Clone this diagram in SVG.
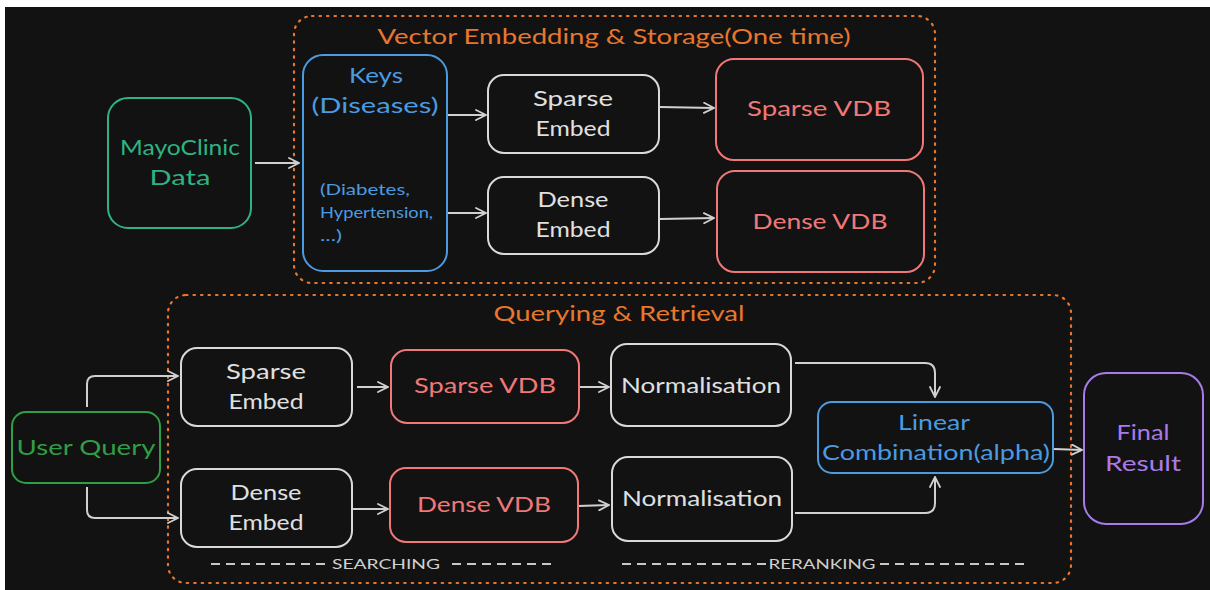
<svg xmlns="http://www.w3.org/2000/svg" width="1210" height="590" viewBox="0 0 1210 590">
<style>
.t{font-family:"Lato","Liberation Sans",sans-serif;text-anchor:middle}
.l{font-family:"Lato","Liberation Sans",sans-serif}
.box{fill:#121212;stroke-width:2}
.w{stroke:#d9d9d9}
.wt{fill:#e0e0e0}
.r{stroke:#f07878}
.rt{fill:#f07878}
.b{stroke:#4a9be0}
.bt{fill:#4a9be0}
.grp{fill:none;stroke:#e8772e;stroke-width:2.2;stroke-dasharray:1.5 6;stroke-linecap:round}
.gt{fill:#e8772e}
.con{fill:none;stroke:#d0d0d0;stroke-width:2;marker-end:url(#ah)}
.sep{stroke:#c8c8c8;stroke-width:2;stroke-dasharray:9 6}
</style>
<defs>
<marker id="ah" viewBox="0 0 12 12" refX="11" refY="6" markerWidth="12" markerHeight="12" markerUnits="userSpaceOnUse" orient="auto">
<path d="M1,1 L11,6 L1,11" fill="none" stroke="#d0d0d0" stroke-width="1.8" stroke-linecap="round"/>
</marker>
</defs>
<rect x="0" y="0" width="1210" height="590" fill="#ffffff"/>
<rect x="5" y="7" width="1205" height="583" fill="#121212"/>

<g id="group-storage">
<rect class="grp" x="294" y="16" width="641" height="267" rx="18"/>
<text class="t gt" x="614" y="44" font-size="21" textLength="473" lengthAdjust="spacingAndGlyphs">Vector Embedding &amp; Storage(One time)</text>
</g>
<g id="group-query">
<rect class="grp" x="168" y="295" width="903" height="288" rx="18"/>
<text class="t gt" x="619" y="321" font-size="21" textLength="251" lengthAdjust="spacingAndGlyphs">Querying &amp; Retrieval</text>
</g>

<g id="connectors">
<path class="con" d="M255,163 L299,163"/>
<path class="con" d="M448,115 L486,115"/>
<path class="con" d="M448,213 L486,213"/>
<path class="con" d="M660,107 L714,108"/>
<path class="con" d="M660,219 L714,218"/>
<path class="con" d="M87,407 L87,384 Q87,376 95,376 L178,376"/>
<path class="con" d="M87,487 L87,510 Q87,518 95,518 L178,518"/>
<path class="con" d="M357,387 L388,387"/>
<path class="con" d="M353,509 L388,509"/>
<path class="con" d="M580,387 L609,387"/>
<path class="con" d="M578,506 L609,505"/>
<path class="con" d="M795,363 L925,363 Q935,363 935,373 L935,397"/>
<path class="con" d="M795,513 L925,513 Q935,513 935,503 L935,477"/>
<path class="con" d="M1054,449 L1082,450"/>
</g>

<g id="mayoclinic">
<rect class="box" x="108" y="98" width="143" height="130" rx="20" stroke="#2fb383"/>
<text class="t" fill="#2fb383" font-size="22" x="180" y="155" textLength="120" lengthAdjust="spacingAndGlyphs">MayoClinic</text>
<text class="t" fill="#2fb383" font-size="22" x="180" y="185" textLength="61" lengthAdjust="spacingAndGlyphs">Data</text>
</g>
<g id="keys">
<rect class="box b" x="303" y="55" width="144" height="216" rx="20"/>
<text class="t bt" font-size="22" x="376" y="83" textLength="54" lengthAdjust="spacingAndGlyphs">Keys</text>
<text class="t bt" font-size="22" x="375" y="113" textLength="127" lengthAdjust="spacingAndGlyphs">(Diseases)</text>
<text class="l bt" font-size="15" x="320" y="195" textLength="90" lengthAdjust="spacingAndGlyphs">(Diabetes,</text>
<text class="l bt" font-size="15" x="320" y="218" textLength="113" lengthAdjust="spacingAndGlyphs">Hypertension,</text>
<text class="l bt" font-size="15" x="320" y="241" textLength="22" lengthAdjust="spacingAndGlyphs">...)</text>
</g>
<g id="sparse-embed-1">
<rect class="box w" x="488" y="75" width="171" height="78" rx="16"/>
<text class="t wt" font-size="22" x="573" y="106" textLength="80" lengthAdjust="spacingAndGlyphs">Sparse</text>
<text class="t wt" font-size="22" x="573" y="136" textLength="75" lengthAdjust="spacingAndGlyphs">Embed</text>
</g>
<g id="dense-embed-1">
<rect class="box w" x="488" y="177" width="171" height="77" rx="16"/>
<text class="t wt" font-size="22" x="573" y="207" textLength="71" lengthAdjust="spacingAndGlyphs">Dense</text>
<text class="t wt" font-size="22" x="573" y="237" textLength="75" lengthAdjust="spacingAndGlyphs">Embed</text>
</g>
<g id="sparse-vdb-1">
<rect class="box r" x="716" y="59" width="207" height="101" rx="18"/>
<text class="t rt" font-size="22" x="819" y="116" textLength="144" lengthAdjust="spacingAndGlyphs">Sparse VDB</text>
</g>
<g id="dense-vdb-1">
<rect class="box r" x="717" y="171" width="207" height="101" rx="18"/>
<text class="t rt" font-size="22" x="820" y="229" textLength="135" lengthAdjust="spacingAndGlyphs">Dense VDB</text>
</g>

<g id="user-query">
<rect class="box" x="12" y="412" width="148" height="71" rx="14" stroke="#2f9e44"/>
<text class="t" fill="#2f9e44" font-size="22" x="86" y="455" textLength="139" lengthAdjust="spacingAndGlyphs">User Query</text>
</g>
<g id="sparse-embed-2">
<rect class="box w" x="181" y="348" width="171" height="78" rx="16"/>
<text class="t wt" font-size="22" x="266" y="379" textLength="80" lengthAdjust="spacingAndGlyphs">Sparse</text>
<text class="t wt" font-size="22" x="266" y="409" textLength="75" lengthAdjust="spacingAndGlyphs">Embed</text>
</g>
<g id="dense-embed-2">
<rect class="box w" x="181" y="469" width="171" height="78" rx="16"/>
<text class="t wt" font-size="22" x="266" y="500" textLength="71" lengthAdjust="spacingAndGlyphs">Dense</text>
<text class="t wt" font-size="22" x="266" y="530" textLength="75" lengthAdjust="spacingAndGlyphs">Embed</text>
</g>
<g id="sparse-vdb-2">
<rect class="box r" x="391" y="350" width="188" height="73" rx="16"/>
<text class="t rt" font-size="22" x="485" y="393" textLength="142" lengthAdjust="spacingAndGlyphs">Sparse VDB</text>
</g>
<g id="dense-vdb-2">
<rect class="box r" x="390" y="468" width="188" height="74" rx="16"/>
<text class="t rt" font-size="22" x="484" y="512" textLength="134" lengthAdjust="spacingAndGlyphs">Dense VDB</text>
</g>
<g id="normalisation-1">
<rect class="box w" x="611" y="344" width="180" height="82" rx="16"/>
<text class="t wt" font-size="21" x="701" y="393" textLength="160" lengthAdjust="spacingAndGlyphs">Normalisation</text>
</g>
<g id="normalisation-2">
<rect class="box w" x="612" y="457" width="180" height="84" rx="16"/>
<text class="t wt" font-size="21" x="702" y="506" textLength="160" lengthAdjust="spacingAndGlyphs">Normalisation</text>
</g>
<g id="linear-combination">
<rect class="box b" x="818" y="402" width="235" height="71" rx="14"/>
<text class="t bt" font-size="21" x="934" y="430" textLength="72" lengthAdjust="spacingAndGlyphs">Linear</text>
<text class="t bt" font-size="21" x="936" y="460" textLength="228" lengthAdjust="spacingAndGlyphs">Combination(alpha)</text>
</g>
<g id="final-result">
<rect class="box" x="1084" y="373" width="119" height="151" rx="22" stroke="#a87be8"/>
<text class="t" fill="#a87be8" font-size="22" x="1143" y="440" textLength="53" lengthAdjust="spacingAndGlyphs">Final</text>
<text class="t" fill="#a87be8" font-size="22" x="1143" y="471" textLength="76" lengthAdjust="spacingAndGlyphs">Result</text>
</g>

<g id="searching">
<line class="sep" x1="211" y1="564" x2="330" y2="564"/>
<text class="t" fill="#d0d0d0" font-size="14" x="386" y="569" textLength="108" lengthAdjust="spacingAndGlyphs">SEARCHING</text>
<line class="sep" x1="452" y1="564" x2="556" y2="564"/>
</g>
<g id="reranking">
<line class="sep" x1="622" y1="564" x2="766" y2="564"/>
<text class="t" fill="#d0d0d0" font-size="14" x="822" y="569" textLength="107" lengthAdjust="spacingAndGlyphs">RERANKING</text>
<line class="sep" x1="880" y1="564" x2="1026" y2="564"/>
</g>
</svg>
